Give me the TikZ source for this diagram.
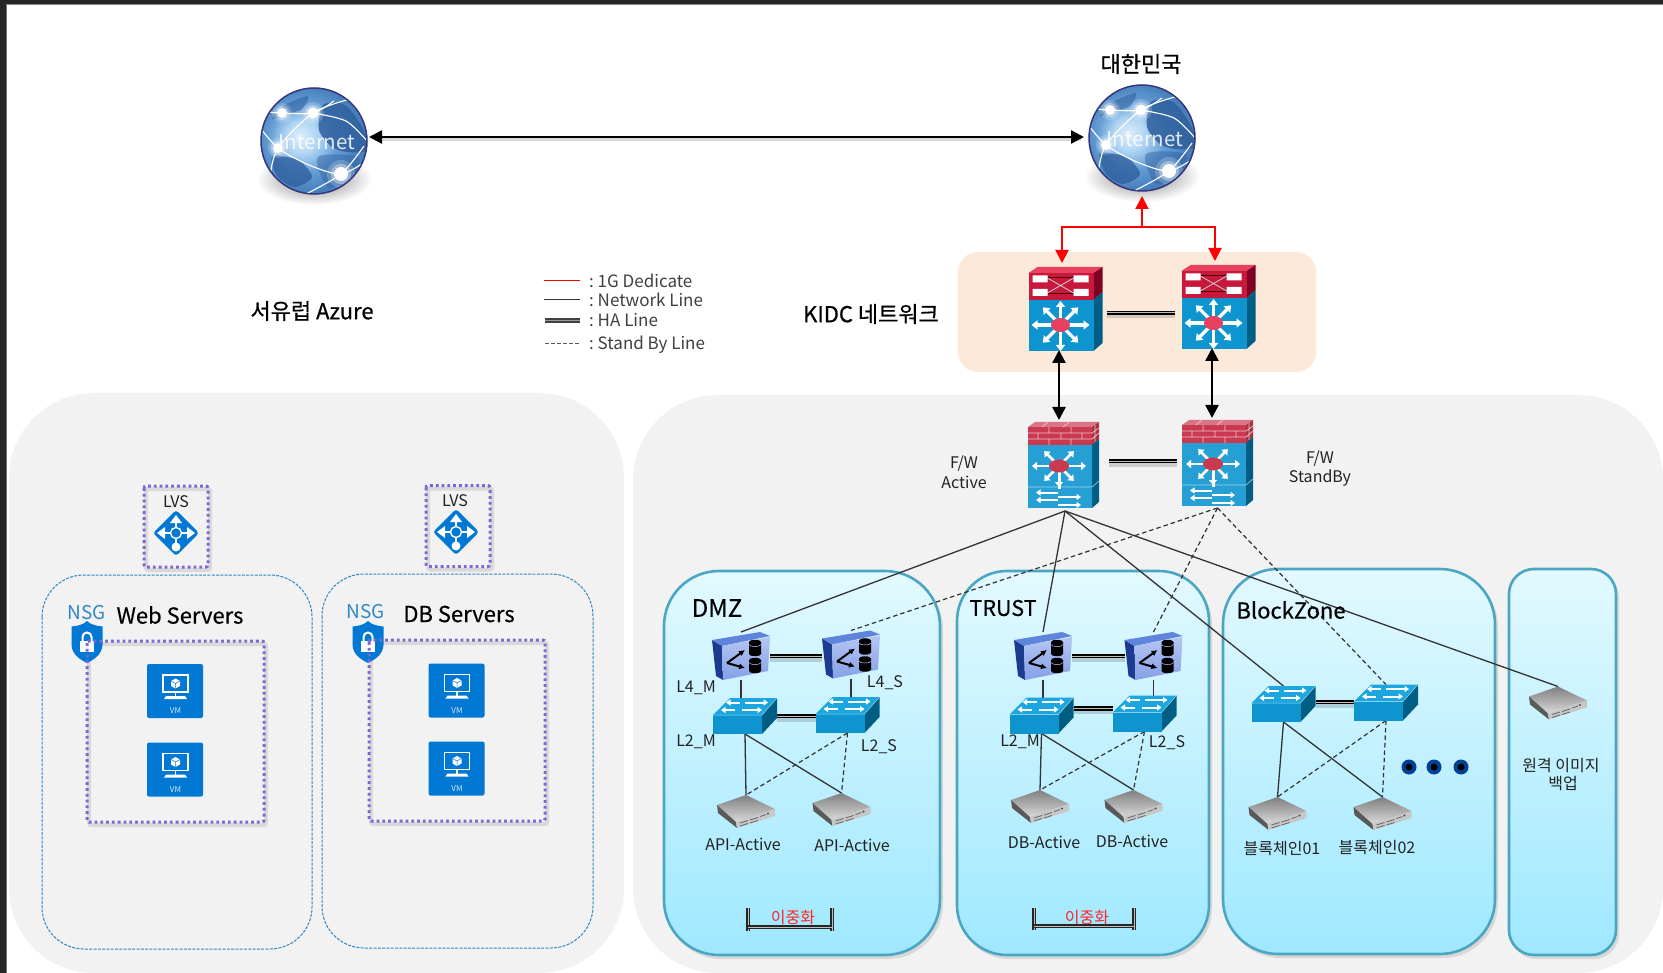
\documentclass[tikz,border=0pt]{standalone}
\usepackage{fontspec}
\setmainfont{Noto Sans CJK KR}
\newfontfamily\headfont[FakeBold=0.35]{Noto Sans CJK KR}
\newfontfamily\titlefont[FakeBold=0.7]{Noto Sans CJK KR}
\usetikzlibrary{arrows.meta,calc}
\definecolor{panel}{HTML}{F2F2F2}
\definecolor{peach}{HTML}{FCE9DA}
\definecolor{zonetop}{HTML}{E2F9FF}
\definecolor{zonebot}{HTML}{9FE8FF}
\definecolor{zoneline}{HTML}{4BA6C2}
\definecolor{azure}{HTML}{0078D4}
\definecolor{dotpurple}{HTML}{7B68D8}
\definecolor{dashblue}{HTML}{2F86C8}
\definecolor{ciscoblue}{HTML}{0E95CF}
\definecolor{ciscoside}{HTML}{005E85}
\definecolor{ciscotop}{HTML}{1CA6E0}
\definecolor{redfront}{HTML}{C8193C}
\definecolor{redside}{HTML}{7E0022}
\definecolor{redtop}{HTML}{E8405F}
\definecolor{brick}{HTML}{C93A50}
\definecolor{linegray}{HTML}{333333}
\definecolor{txt}{HTML}{222222}
\definecolor{lfside}{HTML}{1C3A8E}
\definecolor{lftop}{HTML}{5F84DC}
\definecolor{lffacea}{HTML}{86A0E6}
\definecolor{lffaceb}{HTML}{B4C6F2}
\definecolor{land}{HTML}{2F609E}
\definecolor{globerim}{HTML}{37377E}
\pgfdeclareradialshading{globesh}{\pgfpoint{-7bp}{2bp}}{rgb(0bp)=(.88,.94,.99);rgb(8bp)=(.68,.83,.95);rgb(16bp)=(.40,.62,.84);rgb(25bp)=(.28,.50,.74);rgb(50bp)=(.25,.46,.70)}
\newcommand{\fsz}[1]{\fontsize{#1}{#1}\selectfont}
\tikzset{
  hold/.style 2 args={inner sep=0pt,outer sep=0pt,minimum width=#1pt,minimum height=#2pt},
  lbl/.style={inner sep=0pt,text=txt,align=center,font=\fsz{16}},
  head/.style={inner sep=0pt,text=black,font=\headfont\fsz{22}},
  headb/.style={inner sep=0pt,text=black,font=\titlefont\fsz{22}},
  net/.style={linegray,line width=1.3pt},
  stby/.style={linegray,line width=1.2pt,dash pattern=on 4.5pt off 3pt},
  ha/.style={preaction={draw=black,line width=7pt,opacity=.15,transform canvas={yshift=-2pt}},black,line width=1.9pt,double=white!75!black,double distance=1pt},
  tri/.style={-{Triangle[length=13pt,width=13pt]}},
  tritwo/.style={{Triangle[length=13pt,width=13pt]}-{Triangle[length=13pt,width=13pt]}},
  zone/.style={draw=zoneline,line width=2.6pt,top color=zonetop,bottom color=zonebot},
  zshadow/.style={fill=black!45,opacity=.25},
  purpledot/.style={draw=dotpurple,line width=3pt,dash pattern=on 2.8pt off 3pt,rounded corners=2pt},
  purpleshadow/.style={draw=black,line width=4pt,opacity=.1,rounded corners=2pt},
  bluedash/.style={draw=dashblue,line width=1pt,dash pattern=on 3pt off 1.3pt,rounded corners=42pt},
  whitearrow/.style={white,line width=3.2pt,-{Triangle[length=6pt,width=9pt]}},
  whitearrowthin/.style={white,line width=2pt,-{Triangle[length=4.5pt,width=6pt]}},
  router/.pic={
    \fill[redtop] (0,6)--(9,0)--(74,0)--(65,6)--cycle;
    \fill[redside] (65,6)--(74,0)--(74,25)--(65,33)--cycle;
    \fill[ciscoside] (65,33)--(74,25)--(74,76)--(65,84)--cycle;
    \fill[redfront] (0,6) rectangle (65,33);
    \fill[ciscoblue] (0,33) rectangle (65,84);
    \draw[black!70!red,line width=.7pt] (18,10.5)--(46,10.5) (18,26.5)--(46,26.5);
    \draw[white!80!black,line width=.8pt] (18,10.5)--(46,26.5) (18,26.5)--(46,10.5);
    \fill[white] (4,8.5) rectangle (19,15.5) (45,8.5) rectangle (60,15.5) (4,22) rectangle (19,29) (45,22) rectangle (60,29);
    \foreach \a/\r in {0/29,45/25,90/26,135/25,180/29,225/25,270/24,315/25}
      \draw[whitearrow] ($(32,58)+(\a:6)$) -- ($(32,58)+(\a:\r)$);
    \fill[redtop] (32,58) ellipse [x radius=9.5pt,y radius=7pt];
  },
  firewall/.pic={
    \fill[brick!70!white] (0,5)--(7,0)--(71,0)--(64,5)--cycle;
    \fill[brick] (0,5) rectangle (64,23);
    \fill[brick!85!black] (64,5)--(71,0)--(71,17)--(64,23)--cycle;
    \draw[white!70!brick,line width=.7pt] (0,11)--(64,11) (0,17)--(64,17) (64,11)--(71,6) (64,17)--(71,11)
      (21,5)--(21,11) (43,5)--(43,11) (10,11)--(10,17) (33,11)--(33,17) (54,11)--(54,17) (21,17)--(21,23) (43,17)--(43,23)
      (20,0)--(14,5) (41,0)--(35,5) (67,3)--(67,20);
    \fill[ciscoside] (64,23)--(71,17)--(71,80)--(64,86)--cycle;
    \fill[ciscoblue!90!white] (0,23) rectangle (64,86);
    \draw[white!60!ciscoblue,line width=.6pt] (0,65)--(64,65) (64,65)--(71,59);
    \foreach \a/\r in {0/27,45/21,90/21,135/21,180/27,225/21,315/21}
      \draw[whitearrow,line width=2.8pt,-{Triangle[length=5pt,width=8pt]}] ($(31,44)+(\a:5)$) -- ($(31,44)+(\a:\r)$);
    \draw[white,line width=3pt] (31,50)--(31,67);
    \fill[brick] (31,44) ellipse [x radius=10pt,y radius=6.5pt];
    \draw[whitearrowthin] (30,70.5)--(8,70.5);
    \draw[whitearrowthin] (30,78)--(8,78);
    \draw[whitearrowthin] (30,75)--(53,75);
    \draw[whitearrowthin] (30,83)--(53,83);
  },
  lfour/.pic={
    \fill[lfside] (0,8)--(10,14)--(11,48)--(4,44)--cycle;
    \fill[lftop] (0,8)--(48,0)--(58,4)--(10,14)--cycle;
    \shade[top color=lffaceb,bottom color=lffacea] (10,14)--(58,5)--(56,39)--(11,48)--cycle;
    \draw[black,line width=2pt,-{Latex[length=6pt,width=6pt]}] (15,31)--(33,18);
    \draw[black,line width=2pt,-{Latex[length=6pt,width=6pt]}] (15,31)--(33,36);
    \fill[black] (37,10) rectangle (49,22) (37,28) rectangle (49,39);
    \fill[black] (43,10) ellipse [x radius=6pt,y radius=2.2pt] (43,22) ellipse [x radius=6pt,y radius=2.2pt] (43,28) ellipse [x radius=6pt,y radius=2.2pt] (43,39) ellipse [x radius=6pt,y radius=2.2pt];
    \draw[white!75!blue,line width=.5pt] (37,12.5) arc[start angle=180,end angle=360,x radius=6pt,y radius=2pt];
    \draw[white!75!blue,line width=.5pt] (37,30.5) arc[start angle=180,end angle=360,x radius=6pt,y radius=2pt];
  },
  swtch/.pic={
    \fill[ciscotop] (0,17)--(17,0)--(64,0)--(49,17)--cycle;
    \fill[ciscoside] (49,17)--(64,0)--(64,20)--(49,36)--cycle;
    \fill[ciscoblue] (0,17) rectangle (49,36);
    \draw[white!60!ciscoblue,line width=.5pt] (0,17)--(49,17)--(64,0);
    \draw[whitearrowthin] (27,4.5)--(13,4.5);
    \draw[whitearrowthin] (32,4.5)--(55,4.5);
    \draw[whitearrowthin] (22,12)--(8,12);
    \draw[whitearrowthin] (29,12)--(49,12);
  },
  srvr/.pic={
    \shade[top color=black!50,bottom color=black!15] (0,10)--(29,0)--(58,14)--(19,27)--cycle;
    \fill[black!65] (0,10)--(19,27)--(20,33)--(1,18)--cycle;
    \fill[black!22] (19,27)--(58,14)--(58,21)--(20,33)--cycle;
    \draw[black!60,line width=.8pt] (23,28)--(31,25.5) (23,31)--(31,28.5) (33,25)--(41,22.5) (33,28)--(41,25.5) (43,21.5)--(49,19.5);
    \fill[black!70] (51,18.5) circle (1.1pt);
  },
  globe/.pic={
    \shade[inner color=black!50,outer color=white] (0,38) ellipse [x radius=58pt,y radius=26pt];
    \begin{scope}
      \clip (0,0) circle (53pt);
      \fill[shading=globesh] (-53,-53) rectangle (53,53);
      \fill[land,opacity=.85] plot[smooth cycle] coordinates {(9,-36) (31,-36) (49,-12) (53,9) (34,11) (18,6) (5,-11)};
      \fill[land,opacity=.55] plot[smooth cycle] coordinates {(-29,-36) (-6,-45) (-12,-32) (-26,-27) (-42,-22)};
      \fill[land,opacity=.8] plot[smooth cycle] coordinates {(-42,16) (-16,19) (-2,36) (-19,46) (-36,36)};
      \fill[land,opacity=.45] plot[smooth cycle] coordinates {(4,16) (44,16) (38,36) (14,46)};
      \draw[white,line width=1.1pt] plot[smooth] coordinates {(-56,-16) (-36,7) (-5,24) (27,33) (52,20)};
      \draw[white,line width=1.1pt] plot[smooth] coordinates {(-44,36) (-36,7) (-1,-28) (36,-42)};
      \draw[white,line width=1.1pt] plot[smooth] coordinates {(-1,-28) (32,-20) (53,0)};
      \draw[white,line width=1.1pt] plot[smooth] coordinates {(-56,-30) (-32,-28) (-1,-28) (20,-40)};
      \draw[white,line width=1.1pt] plot[smooth] coordinates {(-10,54) (27,33) (50,5)};
      \foreach \p/\s in {{(-32,-28)}/5,{(-1,-28)}/5.5,{(-36,7)}/5,{(27,33)}/7}{
        \fill[white,opacity=.2] \p circle ({\s*2pt});
        \fill[white,opacity=.35] \p circle ({\s*1.45pt});
        \fill[white] \p circle ({\s*1pt});
      }
    \end{scope}
    \draw[globerim,line width=1.5pt] (0,0) circle (53pt);
    \node[inner sep=0pt,text=white,opacity=.85,font=\fsz{20.5}] (-t) at (3,1) {Internet};
  },
  lvsicon/.pic={
    \fill[azure,rounded corners=3pt] (0,-23)--(23,0)--(0,23)--(-23,0)--cycle;
    \draw[white,line width=2.4pt] (0,-13)--(0,15);
    \draw[white,line width=2.4pt] (-14,0)--(14,0);
    \fill[white] (0,-18)--(6,-10)--(-6,-10)--cycle (-19,0)--(-11,-6)--(-11,6)--cycle (19,0)--(11,-6)--(11,6)--cycle;
    \fill[white] (0,14) circle (4.5pt);
    \fill[azure] (0,0) circle (5.5pt);
    \draw[white,line width=1.4pt] (0,0) circle (5.5pt);
  },
  shieldicon/.pic={
    \fill[azure] (0,-21) .. controls (4,-17) and (10,-16) .. (15.5,-15.5) -- (15.5,3) .. controls (15,13) and (6,18) .. (0,21) .. controls (-6,18) and (-15,13) .. (-15.5,3) -- (-15.5,-15.5) .. controls (-10,-16) and (-4,-17) .. cycle;
    \fill[white] (-7,-1) rectangle (7,10);
    \draw[white,line width=2pt] (-4.5,-1) -- (-4.5,-5) arc[start angle=180,end angle=0,radius=4.5pt] -- (4.5,-1);
  },
  vmicon/.pic={
    \fill[azure,rounded corners=2pt] (-28,-27) rectangle (28,27);
    \draw[white,line width=1.6pt] (-12,-16) rectangle (13,1);
    \draw[white,line width=1.4pt] (.5,1) -- (.5,6);
    \fill[white] (-9,5) -- (10,5) -- (12,8) -- (-11,8) -- cycle;
    \fill[white] (.5,-12.5) -- (5,-10) -- (5,-5) -- (.5,-2.5) -- (-4,-5) -- (-4,-10) -- cycle;
    \draw[azure,line width=.5pt] (-4,-10) -- (.5,-7.5) -- (5,-10) (.5,-7.5) -- (.5,-2.5);
    \node[inner sep=0pt,text=white!85!azure,font=\fsz{8}] (-t) at (.5,20) {VM};
  }
}
\begin{document}
\begin{tikzpicture}[x=1pt,y=-1pt]
\useasboundingbox (0,0) rectangle (1663,973);
\fill[white] (0,0) rectangle (1663,973);
% panels
\fill[panel,rounded corners=85pt] (9,393) rectangle (624,973);
\fill[panel,rounded corners=85pt] (633,395) rectangle (1663,973);
\fill[peach,rounded corners=20pt] (958,252) rectangle (1316,372);
\fill[black!85] (0,0) rectangle (1663,4.5);
\fill[black!85] (0,0) rectangle (6,973);
\fill[black!55] (6,4.5) rectangle (7,973);
\fill[black!45] (6,4.5) rectangle (1663,5.3);
% globes
\node[circle,hold={106}{106}] (gla) at (314,141) {};
\node[circle,hold={106}{106}] (glb) at (1142,138) {};
\pic (glap) at (gla) {globe};
\pic (glbp) at (glb) {globe};
% titles
\node[headb] (tkr) at (1141,64) {대한민국};
\node[headb] (taz) at (312,311) {서유럽 Azure};
\node[headb] (tki) at (871,314) {KIDC 네트워크};
% legend
\coordinate (lg1a) at (544,281); \coordinate (lg1b) at (580,281);
\coordinate (lg2a) at (544,300); \coordinate (lg2b) at (580,300);
\coordinate (lg3a) at (545,320.5); \coordinate (lg3b) at (580,320.5);
\coordinate (lg4a) at (545,344); \coordinate (lg4b) at (580,344);
\draw[red,line width=1pt] (lg1a)--(lg1b);
\draw[linegray,line width=1pt] (lg2a)--(lg2b);
\draw[black!75,line width=1.8pt,double=black!40,double distance=1pt] (lg3a)--(lg3b);
\draw[black!65,line width=1pt,dash pattern=on 3.5pt off 2.5pt] (lg4a)--(lg4b);
\foreach \n/\y/\t in {a/281/{:\ 1G Dedicate},b/300/{:\ Network Line},c/320/{:\ HA Line},d/345/{:\ Stand By Line}}
  \node[lbl,anchor=west,font=\fsz{17},text=black!75] (lgt\n) at (589,\y) {\t};
% zones
\foreach \xa/\ya/\xb/\yb/\r in {664/571/940/955/55,957/571/1209/955/50,1223/569/1495/954/55,1509/569/1616/955/25}{
  \fill[zshadow,rounded corners=\r pt] (\xa+2,\ya+3) rectangle (\xb+3,\yb+4);
  \path[zone,rounded corners=\r pt] (\xa,\ya) rectangle (\xb,\yb);
}
% device holders
\node[hold={73}{84}] (kidca) at (1065,309) {};
\node[hold={73}{84}] (kidcb) at (1218,307) {};
\node[hold={71}{86}] (fwa) at (1063.5,465) {};
\node[hold={71}{86}] (fwb) at (1217.5,463) {};
\node[hold={58}{48}] (dla) at (741,656) {};
\node[hold={58}{48}] (dlb) at (851,654.5) {};
\node[hold={64}{36}] (dsa) at (745,716) {};
\node[hold={64}{36}] (dsb) at (847.5,715) {};
\node[hold={58}{33}] (dva) at (746,811.5) {};
\node[hold={58}{33}] (dvb) at (841.5,809.5) {};
\node[hold={58}{48}] (tla) at (1043,656) {};
\node[hold={58}{48}] (tlb) at (1153.5,656) {};
\node[hold={64}{36}] (tsa) at (1041.5,715.5) {};
\node[hold={64}{36}] (tsb) at (1144.5,713.5) {};
\node[hold={58}{33}] (tva) at (1040,806.5) {};
\node[hold={58}{33}] (tvb) at (1133.5,806.5) {};
\node[hold={64}{36}] (bsa) at (1283.5,704) {};
\node[hold={64}{36}] (bsb) at (1386,702.5) {};
\node[hold={58}{33}] (bva) at (1277.5,813.5) {};
\node[hold={58}{33}] (bvb) at (1382.5,813.5) {};
\node[hold={58}{33}] (bkp) at (1558,703) {};
% firewall out points
\coordinate (fwaout) at ([xshift=1.5pt,yshift=-3pt]fwa.south);
\coordinate (fwbout) at ([yshift=-2pt]fwb.south);
% main connectors
\draw[black!30,line width=3pt,opacity=.5] ([xshift=8pt,yshift=1pt]gla.east) -- ([xshift=-8pt,yshift=-2pt]glb.west);
\draw[black,line width=2.4pt,tritwo] ([xshift=2pt,yshift=4pt]gla.east) -- ([xshift=-5pt,yshift=1pt]glb.west);
\coordinate (redhub) at (1142,227);
\draw[red,line width=2pt,tri] (redhub) -- ([yshift=-5pt]glb.south);
\draw[red,line width=2pt,tri] (redhub) -| ([xshift=-3pt,yshift=4pt]kidca.north);
\draw[red,line width=2pt,tri] (redhub) -| ([xshift=-3pt,yshift=4pt]kidcb.north);
\draw[black,line width=2.4pt,tritwo] ([xshift=-6pt,yshift=1pt]kidca.south) -- ([xshift=-4.5pt,yshift=2pt]fwa.north);
\draw[black,line width=2.4pt,tritwo] ([xshift=-6pt,yshift=1pt]kidcb.south) -- ([xshift=-5.5pt,yshift=2pt]fwb.north);
\draw[ha] ([xshift=5pt,yshift=-4pt]kidca.east) -- ([xshift=-7pt,yshift=-6pt]kidcb.west);
\draw[ha] ([xshift=10pt,yshift=4pt]fwa.east) -- ([xshift=-5pt,yshift=2pt]fwb.west);
% firewall fan-out
\draw[net] (fwaout) -- (dla.north);
\draw[net] (fwaout) -- (tla.north);
\draw[net] (fwaout) -- (bsa.north);
\draw[net] (fwaout) -- (bkp.north);
\draw[stby] (fwbout) -- (dlb.north);
\draw[stby] (fwbout) -- (tlb.north);
\draw[stby] (fwbout) -- (bsb.north);
% zone internals
\foreach \la/\lb/\sa/\sb/\va/\vb in {dla/dlb/dsa/dsb/dva/dvb,tla/tlb/tsa/tsb/tva/tvb}{
  \draw[net] (\la.south) -- (\la.south |- \sa.north);
  \draw[net] (\lb.south) -- (\lb.south |- \sb.north);
  \draw[ha] (\la.east) -- (\la.east -| \lb.west);
}
\draw[ha] (dsa.east) -- (dsa.east -| dsb.west);
\draw[ha] ([yshift=7pt]tsa.east) -- ([yshift=7pt]tsa.east -| tsb.west);
\draw[ha] ([yshift=2pt]bsa.east) -- ([yshift=2pt]bsa.east -| bsb.west);
\foreach \sa/\sb/\va/\vb in {dsa/dsb/dva/dvb,tsa/tsb/tva/tvb,bsa/bsb/bva/bvb}{
  \draw[net] (\sa.south) -- (\va.north);
  \draw[net] (\sa.south) -- (\vb.north);
  \draw[stby] (\sb.south) -- (\va.north);
  \draw[stby] (\sb.south) -- (\vb.north);
}
% device drawings
\pic at (kidca.north west) {router};
\pic at (kidcb.north west) {router};
\pic at (fwa.north west) {firewall};
\pic at (fwb.north west) {firewall};
\foreach \n in {dla,dlb,tla,tlb} \pic at (\n.north west) {lfour};
\foreach \n in {dsa,dsb,tsa,tsb,bsa,bsb} \pic at (\n.north west) {swtch};
\foreach \n in {dva,dvb,tva,tvb,bva,bvb,bkp} \pic at (\n.north west) {srvr};
% zone labels
\node[head,font=\headfont\fsz{24}] (zd) at (717,608) {DMZ};
\node[head,font=\headfont\fsz{21.5}] (zt) at (1003,608) {TRUST};
\node[head,font=\headfont\fsz{22}] (zb) at (1291,610) {BlockZone};
\foreach \x/\y/\t/\nm in {696/688/L4\_M/la,885/683/L4\_S/lb,696/742/L2\_M/lc,879/747/L2\_S/ld,743/844/API-Active/le,852/845/API-Active/lf,1020/742/L2\_M/lg,1167/743/L2\_S/lh,1044/842/DB-Active/li,1132/841/DB-Active/lj,1282/849/블록체인01/lk,1377/848/블록체인02/ll,1561/766/원격 이미지/lm,1563/784/백업/ln}
  \node[lbl] (\nm) at (\x,\y) {\t};
\node[lbl] (ffa) at (964,464) {F/W};
\node[lbl] (ffb) at (964,482) {Active};
\node[lbl] (fga) at (1320,459) {F/W};
\node[lbl] (fgb) at (1320,478) {StandBy};
% dots
\foreach \x/\nm in {1409/dta,1434/dtb,1461/dtc}{
  \node[circle,fill=blue!45!black!75!cyan,hold={15}{15}] (\nm) at (\x,767) {};
  \fill[black] (\nm) circle (3.5pt);
}
% redundancy brackets
\foreach \xa/\xb/\ya/\yb/\yc/\nm/\tx in {748/832/908/931/927/ra/793,1034/1134/908/930/926/rb/1087}{
  \coordinate (\nm a) at (\xa,\ya); \coordinate (\nm b) at (\xa,\yb);
  \coordinate (\nm c) at (\xb,\ya); \coordinate (\nm d) at (\xb,\yb);
  \draw[black!85,line width=1.2pt,double=black!25,double distance=1pt] (\nm a) -- (\nm b);
  \draw[black!85,line width=1.2pt,double=black!25,double distance=1pt] (\nm c) -- (\nm d);
  \draw[black!85,line width=1.2pt,double=black!25,double distance=.8pt] (\nm a |- 0,\yc) -- (\nm c |- 0,\yc);
  \node[lbl,text=red!85!white] (\nm t) at (\tx,918) {이중화};
}
% Azure side
\path[bluedash] (42,575) rectangle (312,949);
\path[bluedash] (322,574) rectangle (593,948);
\node[hold={64}{81}] (lvsa) at (176,526.5) {};
\node[hold={64}{81}] (lvsb) at (458,526) {};
\node[hold={177}{181}] (grpa) at (175.5,731.5) {};
\node[hold={176}{181}] (grpb) at (457,730.5) {};
\foreach \n in {lvsa,lvsb,grpa,grpb}{
  \path[purpleshadow] ([xshift=2pt,yshift=-3pt]\n.north west) rectangle ([xshift=2pt,yshift=-3pt]\n.south east);
}
\node[inner sep=0pt,text=txt,font=\fsz{16}] (lvsat) at (176,502) {LVS};
\node[inner sep=0pt,text=txt,font=\fsz{16}] (lvsbt) at (455,501) {LVS};
\node[hold={44}{44}] (icoa) at (176,533) {};
\node[hold={44}{44}] (icob) at (456,532) {};
\pic at (icoa) {lvsicon};
\pic at (icob) {lvsicon};
\node[inner sep=0pt,text=dashblue,font=\fsz{19}] (nsga) at (87,613) {NSG};
\node[inner sep=0pt,text=dashblue,font=\fsz{19}] (nsgb) at (366,612) {NSG};
\node[head] (weba) at (180,615) {Web Servers};
\node[head] (dbb) at (459,614) {DB Servers};
\node[hold={31}{42}] (sha) at (87,642) {};
\node[hold={31}{42}] (shb) at (368,642) {};
\pic at (sha) {shieldicon};
\pic at (shb) {shieldicon};
\foreach \n in {lvsa,lvsb,grpa,grpb}
  \path[purpledot] (\n.north west) rectangle (\n.south east);
\node[hold={56}{54}] (vma) at (175,691) {};
\node[hold={56}{54}] (vmb) at (175,769.5) {};
\node[hold={56}{54}] (vmc) at (456.5,690.5) {};
\node[hold={56}{54}] (vmd) at (456.5,768.5) {};
\pic (vmap) at (vma) {vmicon};
\pic (vmbp) at (vmb) {vmicon};
\pic (vmcp) at (vmc) {vmicon};
\pic (vmdp) at (vmd) {vmicon};
\end{tikzpicture}
\end{document}
